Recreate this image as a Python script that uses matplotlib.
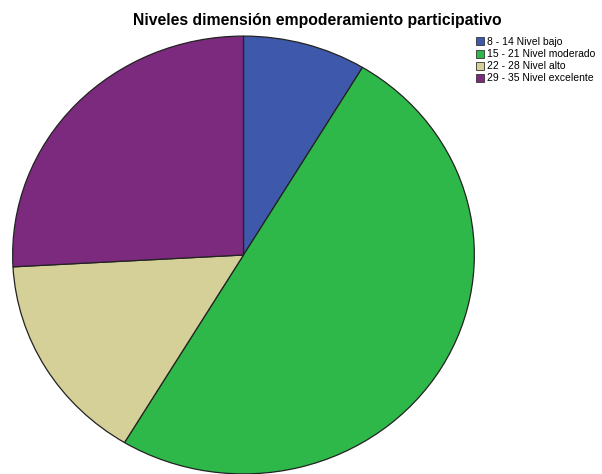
import matplotlib
matplotlib.use("Agg")
import matplotlib.pyplot as plt

title = "Niveles dimensión empoderamiento participativo"
labels = ["8 - 14 Nivel bajo", "15 - 21 Nivel moderado", "22 - 28 Nivel alto", "29 - 35 Nivel excelente"]
counts = [5, 29, 9, 15]
colors = ["#3E58AC", "#2EB84A", "#D5CF98", "#7B2A7E"]

plt.rcParams['font.family'] = ['Liberation Sans', 'DejaVu Sans']

W, H = 602, 474
fig = plt.figure(figsize=(W / 100, H / 100), dpi=100)
fig.patch.set_facecolor("white")

cx, cy, rx, ry = 243.5, 255, 232, 220
ax = fig.add_axes([(cx - rx) / W, (H - cy - ry) / H, 2 * rx / W, 2 * ry / H])
wedges, _ = ax.pie(counts, colors=colors, startangle=90, counterclock=False,
                   wedgeprops=dict(edgecolor="#222222", linewidth=0.9))
ax.set_aspect('auto')
ax.set_xlim(-1.005, 1.005)
ax.set_ylim(-1.005, 1.005)
ax.axis('off')

fig.text(317.5 / W, 1 - 20 / H, title, ha='center', va='center',
         fontsize=11.3, fontweight='bold')

leg = fig.legend(wedges, labels, loc='upper left',
                 bbox_to_anchor=(474 / W, 1 - 35 / H), frameon=False,
                 fontsize=7.5, handlelength=0.8, handleheight=0.8,
                 handletextpad=0.2, labelspacing=0.2, borderpad=0.2,
                 borderaxespad=0)
for h in leg.legend_handles:
    h.set_edgecolor("#333333")
    h.set_linewidth(0.6)

fig.savefig("out.png", dpi=100, facecolor="white")
